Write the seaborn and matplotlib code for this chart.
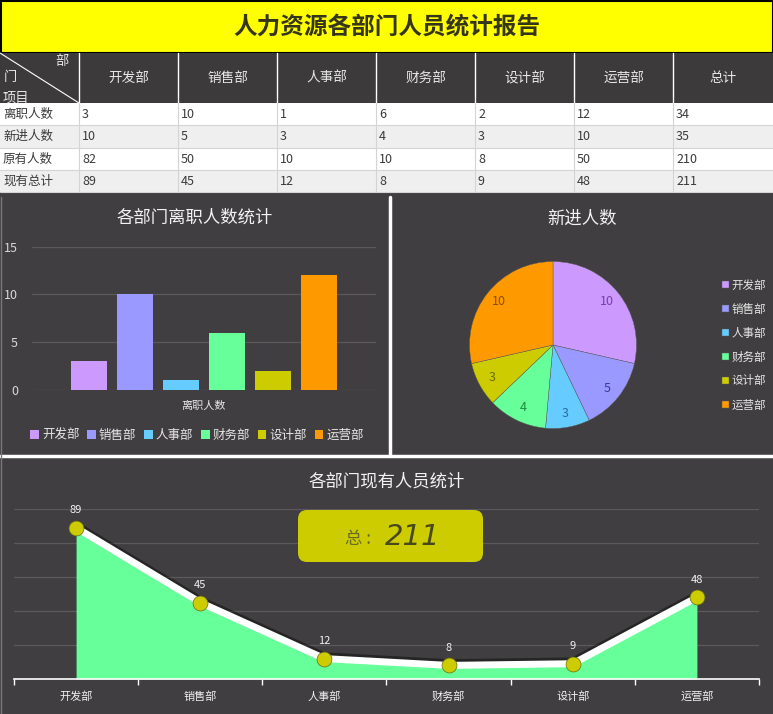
import numpy as np
import pandas as pd
import matplotlib
matplotlib.use("Agg")
import matplotlib.pyplot as plt
import matplotlib.patheffects as pe
from matplotlib.patches import Rectangle, FancyBboxPatch
import seaborn as sns

# ---- data -------------------------------------------------------------
depts = ['开发部', '销售部', '人事部', '财务部', '设计部', '运营部']
row_names = ['离职人数', '新进人数', '原有人数', '现有总计']
left_cnt = [3, 10, 1, 6, 2, 12]
new_cnt = [10, 5, 3, 4, 3, 10]
orig_cnt = [82, 50, 10, 10, 8, 50]
now_cnt = [89, 45, 12, 8, 9, 48]
header_total = '总计'

colors = ['#cc99ff', '#9999ff', '#66ccff', '#66ff99', '#cccc00', '#ff9900']
label_colors = ['#7a3fa0', '#3a3a9a', '#2a6aa0', '#1f8a3f', '#6a6a00', '#8a4a1a']

PANEL = '#403e40'
GRID = '#5c595b'

sns.set_style('white')
plt.rcParams['font.family'] = ['Noto Sans CJK SC', 'DejaVu Sans']
plt.rcParams['axes.unicode_minus'] = False

fig = plt.figure(figsize=(7.73, 7.14), dpi=100)
fig.patch.set_facecolor('white')

# background axes in pixel coordinates (y downwards)
bg = fig.add_axes([0, 0, 1, 1])
bg.set_xlim(0, 773)
bg.set_ylim(714, 0)
bg.axis('off')

# title bar
bg.add_patch(Rectangle((0.5, 0.5), 772, 52.5, facecolor='#ffff00', edgecolor='black', lw=1.5))
bg.text(387, 27, '人力资源各部门人员统计报告', ha='center', va='center',
        fontsize=17, fontweight='bold', color='#35351a')

# table
col_edges = [0, 79, 178, 277, 376, 475, 574, 673, 773]
head_top, head_bot = 53, 103
row_h = 22.25
bg.add_patch(Rectangle((0, head_top), 773, head_bot - head_top, facecolor='#3c3a3b', edgecolor='none'))
table_rows = [left_cnt, new_cnt, orig_cnt, now_cnt]
for i, (name, vals) in enumerate(zip(row_names, table_rows)):
    y0 = head_bot + i * row_h
    bg.add_patch(Rectangle((0, y0), 773, row_h,
                           facecolor='white' if i % 2 == 0 else '#efefef', edgecolor='none'))
    cells = [name] + [str(v) for v in vals] + [str(sum(vals))]
    for j, c in enumerate(cells):
        bg.text(col_edges[j] + 3, y0 + row_h / 2 + 0.5, c, ha='left', va='center',
                fontsize=9, color='#3a3a3a')
    bg.plot([0, 773], [y0 + row_h, y0 + row_h], color='#d4d4d4', lw=0.8)
for j, x in enumerate(col_edges[1:-1]):
    bg.plot([x, x], [head_top, head_bot], color='white', lw=1)
    bg.plot([x, x], [head_bot, head_bot + 4 * row_h], color='#d4d4d4', lw=0.8)
for j, name in enumerate(depts + [header_total]):
    cx = (col_edges[j + 1] + col_edges[j + 2]) / 2
    bg.text(cx, 78, name, ha='center', va='center', fontsize=9.8, color='#e8e8e8')
bg.plot([0, 79], [head_top, head_bot], color='white', lw=0.8)
bg.text(62, 61, '部', ha='center', va='center', fontsize=9.5, color='#e8e8e8')
bg.text(4, 78, '门', ha='left', va='center', fontsize=9.5, color='#e8e8e8')
bg.text(3, 98, '项目', ha='left', va='center', fontsize=9.5, color='#e8e8e8')

# dashboard panels
bg.add_patch(Rectangle((0, 192), 773, 522, facecolor=PANEL, edgecolor='none'))
bg.plot([389.5, 389.5], [197, 455], color='white', lw=2.5)
bg.plot([0, 773], [456, 456], color='white', lw=2.5)
bg.plot([1, 1], [197, 714], color='#7a787a', lw=1)

bg.text(195, 218, '各部门离职人数统计', ha='center', va='center', fontsize=12.5, color='#f2f2f2')
bg.text(582, 219, '新进人数', ha='center', va='center', fontsize=12.5, color='#f2f2f2')
bg.text(387, 481, '各部门现有人员统计', ha='center', va='center', fontsize=12.5, color='#f2f2f2')


def px_axes(x0, y0, x1, y1):
    """axes from pixel box (top-left / bottom-right)"""
    return fig.add_axes([x0 / 773, 1 - y1 / 714, (x1 - x0) / 773, (y1 - y0) / 714])


# ---- bar chart ---------------------------------------------------------
ax1 = px_axes(32, 246.7, 376, 390)
ax1.patch.set_alpha(0)
df_left = pd.DataFrame({'项目': ['离职人数'] * len(depts), '部门': depts, '人数': left_cnt})
sns.barplot(data=df_left, x='项目', y='人数', hue='部门', palette=colors, saturation=1,
            width=0.8, gap=0.22, linewidth=0, edgecolor='none', ax=ax1, zorder=3)
ax1.set_ylim(0, 15)
ax1.set_yticks([0, 5, 10, 15])
ax1.grid(axis='y', color=GRID, lw=0.9)
ax1.set_axisbelow(True)
for s in ax1.spines.values():
    s.set_visible(False)
ax1.set_xlabel('')
ax1.set_ylabel('')
ax1.tick_params(axis='y', colors='#d9d9d9', labelsize=9, length=0, pad=10)
ax1.tick_params(axis='x', colors='#e6e6e6', labelsize=8, length=0, pad=8)
h, l = ax1.get_legend_handles_labels()
ax1.legend_.remove()
for hh in h:
    hh.set_edgecolor('none')
    hh.set_linewidth(0)
ax1.legend(h, l, loc='center', bbox_to_anchor=(197, 435), bbox_transform=bg.transData,
           ncol=6, frameon=False, fontsize=9, labelcolor='#e6e6e6',
           handlelength=0.7, handleheight=0.7, handletextpad=0.25, columnspacing=0.6)

# ---- pie chart ---------------------------------------------------------
r = 83.5
ax2 = px_axes(553 - r, 345 - r, 553 + r, 345 + r)
wedges, _ = ax2.pie(new_cnt, colors=colors, startangle=90, counterclock=False,
                    wedgeprops=dict(edgecolor='#5a5a5a', linewidth=0.3))
ax2.set_xlim(-1, 1)
ax2.set_ylim(-1, 1)
for w, v, c in zip(wedges, new_cnt, label_colors):
    ang = np.deg2rad((w.theta1 + w.theta2) / 2)
    ax2.text(0.83 * np.cos(ang), 0.83 * np.sin(ang), str(v), ha='center', va='center',
             fontsize=9, color=c)
ax2.legend(wedges, depts, loc='center left', bbox_to_anchor=(712, 345),
           bbox_transform=bg.transData, frameon=False, fontsize=8.3, labelcolor='#e6e6e6',
           handlelength=0.6, handleheight=0.6, handletextpad=0.2, labelspacing=0.95)

# ---- area / line chart -------------------------------------------------
ax3 = px_axes(14, 509, 759, 679)
ax3.patch.set_alpha(0)
pos = np.arange(len(depts))
ax3.fill_between(pos, now_cnt, 0, color='#66ff99', lw=0, zorder=2)
sns.lineplot(x=pos, y=now_cnt, color='white', lw=5, ax=ax3, zorder=3,
             path_effects=[pe.SimpleLineShadow(offset=(0, 2), shadow_color='black', alpha=0.4),
                           pe.Normal()])
ax3.scatter(pos, now_cnt, s=115, color='#cccc00', edgecolor='#6a6a10', linewidth=0.5, zorder=4)
for x, v in zip(pos, now_cnt):
    ax3.annotate(str(v), (x, v), xytext=(0, 9), textcoords='offset points',
                 ha='center', va='bottom', fontsize=8, color='#f2f2f2')
ax3.set_xlim(-0.5, 5.5)
ax3.set_ylim(0, 100)
ax3.set_yticks([20, 40, 60, 80, 100])
ax3.set_yticklabels([])
ax3.grid(axis='y', color=GRID, lw=0.9)
ax3.set_axisbelow(True)
for k in ['top', 'left', 'right']:
    ax3.spines[k].set_visible(False)
ax3.spines['bottom'].set_color('white')
ax3.spines['bottom'].set_linewidth(1.2)
ax3.set_xticks(pos, depts)
ax3.set_xticks(np.arange(-0.5, 6, 1), minor=True)
ax3.tick_params(axis='x', which='major', length=0, colors='#f2f2f2', labelsize=8, pad=9)
ax3.tick_params(axis='x', which='minor', bottom=True, length=4, width=1, color='white',
                direction='out')
ax3.tick_params(axis='y', length=0)

# total badge
box = FancyBboxPatch((2.98, 1.52), 1.85, 0.52, boxstyle='round,pad=0,rounding_size=0.09',
                     transform=fig.dpi_scale_trans, facecolor='#cccc00', edgecolor='none', zorder=1)
ax3.add_patch(box)
total_now = sum(now_cnt)
fig.text(345 / 773, 1 - 539 / 714, '总 :', ha='left', va='center', fontsize=12.5,
         color='#6a6a22')
fig.text(385 / 773, 1 - 537 / 714, str(total_now), ha='left', va='center', fontsize=21,
         style='italic', color='#48481a', family='DejaVu Sans')

fig.savefig('out.png', dpi=100, facecolor=fig.get_facecolor())
